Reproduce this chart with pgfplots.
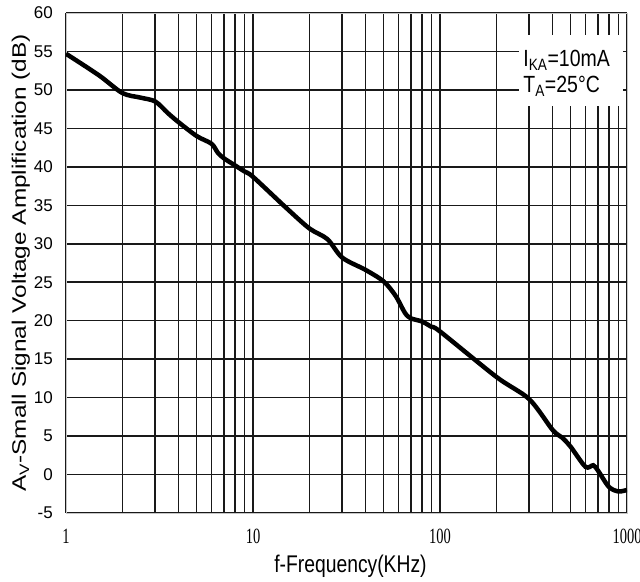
\documentclass[border=0pt]{standalone}
\usepackage{graphicx}
\usepackage{fontspec}
\setmainfont{Liberation Sans}
\newfontfamily\serifnum{Liberation Serif}
\usepackage{pgfplots}
\pgfplotsset{compat=1.18}
\newcommand{\vs}[2]{\scalebox{1}[#1]{#2}}
\begin{document}
\begin{tikzpicture}
\begin{axis}[
  name=ax,
  scale only axis,
  width=561pt, height=500pt,
  clip mode=individual,
  xmode=log, xmin=1, xmax=1000,
  ymin=-5, ymax=60,
  ytick={-5,0,5,10,15,20,25,30,35,40,45,50,55,60},
  xtick={1,10,100,1000},
  xticklabels={\vs{1.5}{1},\vs{1.5}{10},\vs{1.5}{100},\vs{1.5}{1000}},
  minor xtick={2,3,4,5,6,7,8,9,20,30,40,50,60,70,80,90,200,300,400,500,600,700,800,900},
  grid=both,
  major grid style={black!90, line width=1.5pt},
  minor grid style={black!90, line width=1.5pt},
  major tick length=0pt, minor tick length=0pt,
  axis line style={gray!45, line width=0.8pt},
  /pgf/number format/assume math mode=true,
  yticklabel style={font=\fontsize{17}{17}\selectfont, inner sep=0pt, anchor=east, xshift=-13pt},
  xticklabel style={font=\serifnum\fontsize{14.5}{14.5}\selectfont, inner sep=0pt, anchor=north, yshift=-16pt},
]
\addplot[black, line width=4.5pt, smooth, tension=0.5] coordinates {
(1,54.7) (1.5,51.9) (2,49.6) (2.5,49.0) (3,48.5) (3.5,47.0) (4,45.8) (5,44.0)
(6,43.0) (6.5,41.8) (7,41.1) (8,40.2) (9,39.4) (10,38.7) (15,34.7) (20,32.0)
(25,30.6) (30,28.2) (40,26.6) (50,25.1) (58,23.2) (65,21.0) (70,20.3) (80,19.9)
(90,19.2) (100,18.6) (200,12.7) (300,9.8) (400,5.8) (450,4.8) (500,3.6) (600,1.0)
(660,1.2) (700,0.5) (800,-1.6) (900,-2.2) (1000,-2.0)
};
\fill[white] (rel axis cs:0.8075,0.814) rectangle (rel axis cs:0.9929,0.956);
\node[anchor=base west, inner sep=0pt, font=\fontsize{19.5}{19.5}\selectfont]
  at (rel axis cs:0.815,0.8926) {\vs{1.2}{I\textsubscript{KA}=10mA}};
\node[anchor=base west, inner sep=0pt, font=\fontsize{19.5}{19.5}\selectfont]
  at (rel axis cs:0.815,0.84) {\vs{1.2}{T\textsubscript{A}=25°C}};
\node[anchor=base, inner sep=0pt, font=\fontsize{19.3}{19.3}\selectfont]
  at ([yshift=-60pt, xshift=4pt]rel axis cs:0.5,0) {\vs{1.25}{f-Frequency(KHz)}};
\node[anchor=base, rotate=90, inner sep=0pt, font=\fontsize{19.5}{19.5}\selectfont]
  at ([xshift=-40pt]rel axis cs:0,0.5) {\scalebox{1.25}[1]{A\textsubscript{V}-Small Signal Voltage Amplification (dB)}};
\end{axis}
\pgfresetboundingbox
\path ([shift={(-66pt,-69pt)}]ax.south west) rectangle ([shift={(13pt,13pt)}]ax.north east);
\end{tikzpicture}
\end{document}
